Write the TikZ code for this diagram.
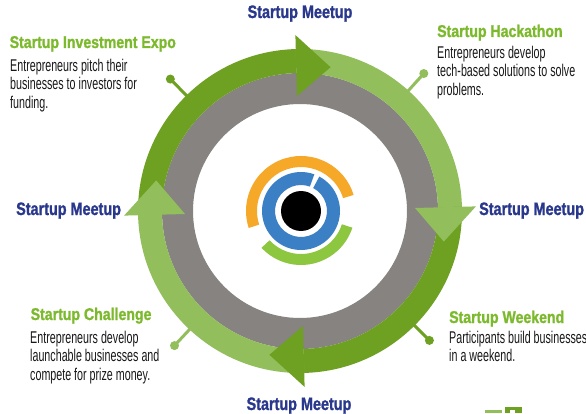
\documentclass[tikz,border=0pt]{standalone}
\usepackage{fontspec}
\setmainfont{Liberation Sans}
\newfontfamily\bodyfont{Liberation Sans}[FakeStretch=0.63]
\newfontfamily\headfont{Liberation Sans}[FakeStretch=0.83, FakeBold=1.2]
\newfontfamily\meetfont{Liberation Sans}[FakeStretch=0.8, FakeBold=1.2]
\definecolor{darkg}{RGB}{110,160,34}
\definecolor{lightg}{RGB}{146,190,92}
\definecolor{ringgray}{RGB}{135,131,128}
\definecolor{titleblue}{RGB}{41,56,140}
\definecolor{headgreen}{RGB}{124,185,44}
\definecolor{bodytext}{RGB}{25,25,25}
\definecolor{logoorange}{RGB}{246,168,40}
\definecolor{logoblue}{RGB}{59,127,196}
\definecolor{logogreen}{RGB}{141,198,63}
\begin{document}
\begin{tikzpicture}[x=1pt,y=1pt,
  meetup/.style={font=\meetfont\bfseries\fontsize{18}{20}\selectfont, text=titleblue, inner sep=0pt},
  heading/.style={font=\headfont\bfseries\fontsize{17}{19}\selectfont, text=headgreen, inner sep=0pt, anchor=base west},
  body/.style={font=\bodyfont\fontsize{17}{18.5}\selectfont, text=bodytext, inner sep=0pt, anchor=north west, align=left},
  pinline/.style={line width=3pt},
]
\useasboundingbox (0,0) rectangle (586,413);
\fill[white] (0,0) rectangle (586,413);
% ring
\begin{scope}[shift={(300,202)}]
  \fill[ringgray, even odd rule] (0,0) circle[radius=138pt] (0,0) circle[radius=107pt];
  \fill[darkg] (181.5:162pt) arc[start angle=181.5,end angle=91.5,radius=162pt] -- (91.5:138pt) arc[start angle=91.5,end angle=181.5,radius=138pt] -- cycle;
  \fill[lightg] (91.5:162pt) arc[start angle=91.5,end angle=1.5,radius=162pt] -- (1.5:138pt) arc[start angle=1.5,end angle=91.5,radius=138pt] -- cycle;
  \fill[darkg] (1.5:162pt) arc[start angle=1.5,end angle=-88.5,radius=162pt] -- (-88.5:138pt) arc[start angle=-88.5,end angle=1.5,radius=138pt] -- cycle;
  \fill[lightg] (-88.5:162pt) arc[start angle=-88.5,end angle=-178.5,radius=162pt] -- (-178.5:138pt) arc[start angle=-178.5,end angle=-88.5,radius=138pt] -- cycle;
  % arrowheads
  \fill[darkg] (91.5:115pt) -- (91.5:176pt) -- (78:147pt) -- cycle;
  \fill[lightg] (1.5:115pt) -- (1.5:176pt) -- (-12:147pt) -- cycle;
  \fill[darkg] (-88.5:115pt) -- (-88.5:176pt) -- (-102:147pt) -- cycle;
  \fill[lightg] (-178.5:115pt) -- (-178.5:176pt) -- (-192:147pt) -- cycle;
  % pins
  \draw[pinline, darkg] (134.5:160pt) -- (134.5:185pt);
  \fill[darkg] (134.5:185pt) circle[radius=4.5pt];
  \draw[pinline, lightg] (48:160pt) -- (48:185pt);
  \fill[lightg] (48:185pt) circle[radius=4.5pt];
  \draw[pinline, lightg] (227:160pt) -- (227:184pt);
  \fill[lightg] (227:184pt) circle[radius=4.5pt];
  \draw[pinline, darkg] (-45:160pt) -- (-45:183pt);
  \fill[darkg] (-45:183pt) circle[radius=4.5pt];
\end{scope}
% logo
\begin{scope}[shift={(301,202)}]
  \fill[black] (0,0) circle[radius=20pt];
  \fill[logoblue] (70:39pt) arc[start angle=70,end angle=422,radius=39pt] -- (422:26pt) arc[start angle=422,end angle=70,radius=26pt] -- cycle;
  \fill[logoorange] (17:55pt) arc[start angle=17,end angle=198,radius=55pt] -- (198:44pt) arc[start angle=198,end angle=17,radius=44pt] -- cycle;
  \fill[logogreen] (223:54pt) arc[start angle=223,end angle=342,radius=54pt] -- (342:43pt) arc[start angle=342,end angle=223,radius=43pt] -- cycle;
\end{scope}
% meetups
\node[meetup, anchor=base] (mtop) at (300,395) {Startup Meetup};
\node[meetup, anchor=base west] (mright) at (479,198) {Startup Meetup};
\node[meetup, anchor=base west] (mleft) at (16,198) {Startup Meetup};
\node[meetup, anchor=base] (mbot) at (299,3) {Startup Meetup};
% headings and bodies
\node[heading] (hexpo) at (9.5,365) {Startup Investment Expo};
\node[body] (bexpo) at (10,354.2) {Entrepreneurs pitch their\\businesses to investors for\\funding.};
\node[heading] (hhack) at (437,376) {Startup Hackathon};
\node[body] (bhack) at (437,367.2) {Entrepreneurs develop\\tech-based solutions to solve\\problems.};
\node[heading] (hchal) at (30.5,93) {Startup Challenge};
\node[body] (bchal) at (30,82.2) {Entrepreneurs develop\\launchable businesses and\\compete for prize money.};
\node[heading] (hweek) at (449,90) {Startup Weekend};
\node[body] (bweek) at (449,82.2) {Participants build businesses\\in a weekend.};
% corner mark
\fill[lightg] (485,0) rectangle (502,3);
\fill[darkg] (505,0) rectangle (522,6);
\fill[white] (510,0) rectangle (515,3);
\end{tikzpicture}
\end{document}
